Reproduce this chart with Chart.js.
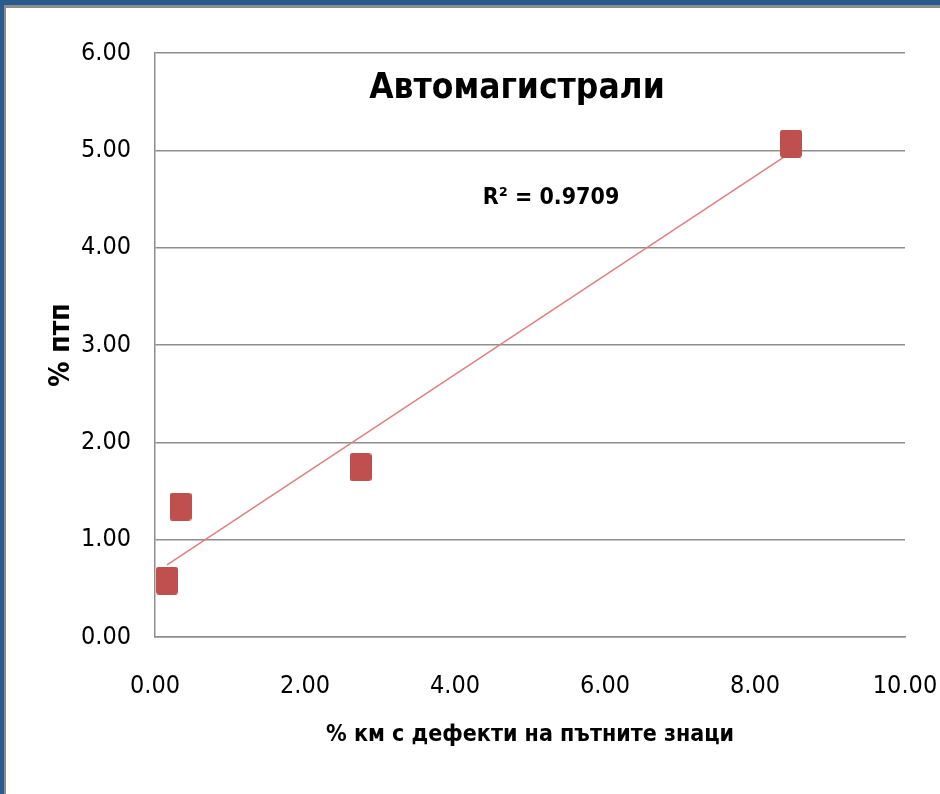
<!DOCTYPE html>
<html>
<head>
<meta charset="utf-8">
<script src="https://cdn.jsdelivr.net/npm/chart.js@4.4.1/dist/chart.umd.min.js"></script>
<style>
  html, body { margin: 0; padding: 0; background: #fff; }
  .outer { width: 940px; height: 794px; box-sizing: border-box; border-top: 5px solid #2a5b8c; border-left: 4px solid #2a5b8c; }
  .inner { width: 936px; height: 789px; box-sizing: border-box; border-top: 3px solid #8e8e8e; border-left: 2px solid #8e8e8e; position: relative; }
  #wrap { position: absolute; left: 0; top: 0; width: 934px; height: 786px; }
</style>
</head>
<body>
<div class="outer"><div class="inner"><div id="wrap"><canvas id="chart"></canvas></div></div></div>
<script>
// Автомагистрали - scatter with linear trendline (Chart.js)
(function () {
'use strict';

const FONT = '"Liberation Sans Narrow", "DejaVu Sans Condensed", "Liberation Sans", sans-serif';
const TITLE = 'Автомагистрали';
const R2_LABEL = 'R² = 0.9709';
const X_TITLE = '% км с дефекти на пътните знаци';
const Y_TITLE = '% птп';

// points
const defectsX = [0.16, 0.34, 2.74, 8.48];
const accidentsY = [0.58, 1.34, 1.745, 5.07];
// trendline end points as drawn
const trendX = [0.16, 8.48];
const trendY = [0.74, 4.98];

const xTicks = { min: 0, max: 10, step: 2 };
const yTicks = { min: 0, max: 6, step: 1 };

function marker() {
    const c = document.createElement('canvas');
    c.width = 22; c.height = 28;
    const g = c.getContext('2d');
    g.fillStyle = '#c0504d';
    g.beginPath();
    g.roundRect(0, 0, 22, 28, 3);
    g.fill();
    return c;
}

const overlayText = {
    id: 'overlayText',
    afterDraw(chart) {
        const ctx = chart.ctx;
        ctx.save();
        ctx.fillStyle = '#000';
        ctx.textAlign = 'center';
        ctx.textBaseline = 'middle';
        ctx.font = 'bold 35px ' + FONT;
        ctx.fillText(TITLE, 511, 81);
        ctx.font = 'bold 23px ' + FONT;
        ctx.fillText(R2_LABEL, 545, 190);
        ctx.restore();
    }
};

function build() {
    const pts = defectsX.map((x, i) => ({ x: x, y: accidentsY[i] }));
    const trend = trendX.map((x, i) => ({ x: x, y: trendY[i] }));
    const ctx = document.getElementById('chart').getContext('2d');
    new Chart(ctx, {
        type: 'scatter',
        data: { datasets: [
            { label: 'Автомагистрали', data: pts, pointStyle: marker(), pointRadius: 12, order: 1 },
            { label: 'Linear', type: 'line', data: trend, borderColor: '#e07f7d', borderWidth: 1.5, pointRadius: 0, fill: false, order: 2 }
        ] },
        options: {
            responsive: true, maintainAspectRatio: false, animation: false,
            layout: { padding: { top: 45, right: 0, left: 0, bottom: 0 } },
            plugins: { legend: { display: false }, tooltip: { enabled: false } },
            scales: {
                x: {
                    type: 'linear', min: xTicks.min, max: xTicks.max,
                    afterFit: s => { s.height = 157; s.paddingRight = 35; },
                    grid: { display: false },
                    border: { color: '#8e8e8e', width: 1.5 },
                    ticks: { stepSize: xTicks.step, padding: 26, color: '#000', maxRotation: 0,
                             font: { family: FONT, size: 25 }, callback: v => v.toFixed(2) },
                    title: { display: true, text: X_TITLE, color: '#000',
                             font: { family: FONT, size: 23, weight: 'bold' }, padding: { top: 0, bottom: 45 } }
                },
                y: {
                    min: yTicks.min, max: yTicks.max,
                    afterFit: s => { s.width = 149; },
                    grid: { color: '#8e8e8e', lineWidth: 1.5, drawTicks: false },
                    border: { color: '#8e8e8e', width: 1.5 },
                    ticks: { stepSize: yTicks.step, padding: 24, color: '#000',
                             font: { family: FONT, size: 25 }, callback: v => v.toFixed(2) },
                    title: { display: true, text: Y_TITLE, color: '#000',
                             font: { family: FONT, size: 28, weight: 'bold' }, padding: { top: 39, bottom: 0 } }
                }
            }
        },
        plugins: [overlayText]
    });
}
if (document.readyState === 'loading') document.addEventListener('DOMContentLoaded', build); else build();
})();
</script>
</body>
</html>
